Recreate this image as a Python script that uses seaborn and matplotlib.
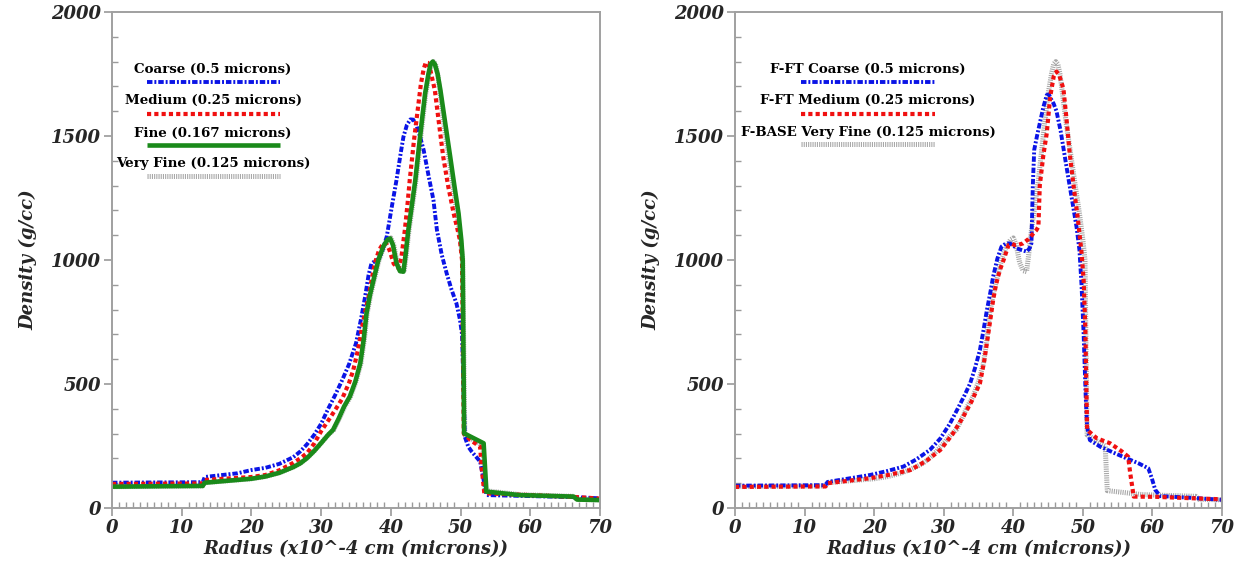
import numpy as np
import pandas as pd
import matplotlib
matplotlib.use("Agg")
import matplotlib.pyplot as plt
from matplotlib.ticker import MultipleLocator
import seaborn as sns

# ---- radial density profiles (radius in 1e-4 cm, density in g/cc) ----
coarse_r = [0, 13.0, 13.3, 18, 20, 22, 24, 26, 27, 28, 29, 30, 31, 32, 33, 34, 35, 35.7,
            36.3, 36.8, 37.2, 37.8, 38.3, 38.8, 39.4, 40.1, 40.8, 41.4, 41.8, 42.3, 42.8,
            43.2, 43.6, 44.1, 44.7, 45.4, 46.1, 46.6, 47.3, 48.0, 48.7, 49.4, 49.9, 50.2,
            50.4, 50.6, 51.1, 51.6, 52.8, 53.3, 53.7, 60, 66, 70]
coarse_rho = [102, 104, 125, 140, 153, 162, 178, 205, 228, 258, 295, 340, 400, 455, 515,
              580, 665, 760, 852, 940, 985, 998, 1005, 1040, 1094, 1210, 1322, 1430, 1497,
              1545, 1567, 1566, 1548, 1505, 1443, 1340, 1242, 1121, 1020, 946, 880, 825,
              760, 700, 500, 287, 247, 227, 187, 113, 52, 48, 44, 39]

medium_r = [0, 13.0, 13.3, 20, 22, 24, 26, 27, 28, 29, 30, 31, 32, 33, 34, 34.6, 35.3,
            35.8, 36.3, 36.8, 37.3, 37.7, 38.3, 38.9, 39.3, 39.8, 40.4, 41.1, 41.5, 42.0,
            42.4, 42.7, 43.3, 43.9, 44.3, 44.7, 45.0, 45.3, 45.7, 46.3, 46.9, 47.5, 48.2,
            49.0, 49.5, 49.9, 50.2, 50.45, 51.4, 52.8, 53.0, 53.4, 60, 66, 70]
medium_rho = [97, 99, 113, 125, 133, 152, 182, 200, 222, 260, 310, 352, 395, 440, 505,
              556, 640, 718, 790, 852, 930, 987, 1040, 1067, 1068, 1040, 985, 966, 1010,
              1121, 1230, 1322, 1480, 1618, 1710, 1770, 1796, 1795, 1760, 1685, 1550, 1417,
              1300, 1188, 1130, 1080, 1000, 300, 274, 247, 167, 59, 52, 45, 38]

fine_r = [0, 8, 13.0, 13.3, 20, 22, 24, 26, 27, 28, 29, 30, 31, 31.7, 32.5, 33.3, 34.1,
          34.9, 35.6, 36.1, 36.5, 37.0, 37.5, 38.2, 38.9, 39.5, 39.9, 40.3, 40.8, 41.3,
          41.8, 42.1, 42.5, 43.0, 43.5, 44.0, 44.4, 44.9, 45.4, 45.7, 46.0, 46.3, 46.7,
          47.1, 47.8, 48.5, 49.1, 49.7, 50.1, 50.3, 50.5, 53.3, 53.7, 58.5, 66.2, 66.7, 70]
fine_rho = [86, 88, 89, 102, 118, 127, 142, 165, 180, 202, 230, 262, 295, 315, 360, 410,
            449, 510, 583, 680, 785, 860, 919, 1000, 1054, 1082, 1087, 1060, 987, 955,
            953, 1020, 1121, 1220, 1322, 1450, 1551, 1670, 1753, 1790, 1800, 1790, 1750,
            1685, 1550, 1417, 1300, 1188, 1080, 1000, 301, 261, 66, 52, 46, 34, 32]

vfine_r = [0, 8, 13.0, 13.3, 20, 22, 24, 26, 27, 28, 29, 30, 31, 31.8, 32.6, 33.4, 34.2,
           35.0, 35.7, 36.2, 36.6, 37.1, 37.6, 38.3, 39.0, 39.6, 40.0, 40.4, 40.9, 41.4,
           41.9, 42.2, 42.6, 43.1, 43.6, 44.1, 44.5, 45.0, 45.5, 45.8, 46.1, 46.4, 46.7,
           47.0, 47.6, 48.3, 48.9, 49.5, 50.0, 50.3, 50.6, 53.2, 53.5, 58.5, 66.2, 66.7, 70]
vfine_rho = [86, 88, 89, 102, 118, 127, 142, 165, 180, 202, 230, 262, 295, 315, 360, 410,
             449, 510, 583, 680, 785, 860, 919, 1000, 1054, 1082, 1089, 1062, 990, 957,
             953, 1020, 1121, 1220, 1322, 1450, 1551, 1670, 1753, 1790, 1800, 1790, 1750,
             1685, 1550, 1417, 1300, 1188, 1080, 1000, 295, 250, 70, 54, 47, 35, 33]

ft_coarse_r = [0, 13.0, 13.3, 19.4, 22, 24.2, 26, 28.0, 29.5, 30.9, 32, 33, 33.8, 34.5,
               35.2, 35.7, 36.2, 36.7, 37.1, 37.7, 38.3, 38.9, 39.5, 40.0, 40.5, 41.2, 41.9,
               42.3, 42.6, 42.8, 43.0, 43.4, 43.8, 44.3, 44.8, 45.1, 45.4, 45.8, 46.2, 46.8,
               47.4, 48.0, 48.6, 49.1, 49.5, 49.8, 50.1, 50.4, 50.6, 51.0, 52.5, 54.5, 56.3,
               58, 59.4, 59.9, 60.4, 61.1, 65, 70]
ft_coarse_rho = [90, 92, 105, 133, 150, 167, 195, 234, 280, 341, 400, 455, 503, 565,
                 637, 715, 798, 870, 933, 1005, 1054, 1066, 1067, 1058, 1047, 1040, 1034,
                 1045, 1067, 1300, 1444, 1500, 1551, 1615, 1665, 1668, 1650, 1630, 1600, 1520,
                 1417, 1315, 1215, 1130, 1040, 900, 704, 450, 328, 274, 247, 222, 200,
                 180, 160, 120, 73, 48, 42, 33]

ft_medium_r = [0, 13.0, 13.3, 19.4, 22, 25.2, 27.5, 29.5, 31.2, 32.8, 34, 35.2, 35.8, 36.4,
               36.8, 37.1, 37.5, 37.8, 38.2, 38.6, 39.3, 39.8, 40.2, 40.8, 41.4, 42.2, 42.9,
               43.3, 43.6, 43.8, 44.3, 44.8, 45.3, 45.8, 46.2, 46.6, 47.2, 47.6, 48.1, 48.7,
               49.3, 49.8, 50.1, 50.35, 50.6, 52.0, 53.9, 55.5, 56.5, 56.8, 57.3, 60.5, 65, 70]
ft_medium_rho = [85, 87, 100, 120, 133, 153, 190, 234, 295, 368, 430, 503, 590, 704,
                 780, 839, 900, 933, 970, 1000, 1060, 1065, 1060, 1062, 1067, 1085, 1108,
                 1120, 1134, 1300, 1420, 1511, 1659, 1740, 1760, 1745, 1690, 1580, 1430, 1290,
                 1160, 1030, 920, 720, 315, 281, 261, 230, 207, 140, 46, 45, 40, 35]

left_labels = ["Coarse (0.5 microns)", "Medium (0.25 microns)",
               "Fine (0.167 microns)", "Very Fine (0.125 microns)"]
right_labels = ["F-FT Coarse (0.5 microns)", "F-FT Medium (0.25 microns)",
                "F-BASE Very Fine (0.125 microns)"]

x_ticks = [0, 10, 20, 30, 40, 50, 60, 70]
y_ticks = [0, 500, 1000, 1500, 2000]

# ---- line styles ----
BLUE = dict(color="#0a14e6", linewidth=2.8, linestyle=(0, (1.4, 0.5, 0.5, 0.5)))
RED = dict(color="#f01010", linewidth=3.0, linestyle=(0, (1.0, 0.75)))
GREEN = dict(color="#1a8a1a", linewidth=3.3, linestyle="-")
GRAY = dict(color="#a8a8a8", linewidth=3.6, linestyle=(0, (0.22, 0.22)))

sns.set_style("white")
plt.rcParams["font.family"] = ["DejaVu Serif"]

fig = plt.figure(figsize=(12.46, 5.64), dpi=100)
ax_l = fig.add_axes([0.0899, 0.0993, 0.3917, 0.8794])
ax_r = fig.add_axes([0.5899, 0.0993, 0.3909, 0.8794])


def draw(ax, r, rho, style):
    df = pd.DataFrame({"r": r, "rho": rho})
    sns.lineplot(data=df, x="r", y="rho", ax=ax, estimator=None, sort=False, **style)


def key(ax, text, style, ty, ly, xc, x0, x1):
    ax.text(xc, ty, text, transform=ax.transAxes, ha="center", va="center",
            fontsize=9.6, fontweight="bold", color="black")
    ax.plot([x0, x1], [ly, ly], transform=ax.transAxes, solid_capstyle="butt",
            **style)


def frame(ax):
    ax.set_xlim(0, 70)
    ax.set_ylim(0, 2000)
    ax.set_xticks(x_ticks)
    ax.set_yticks(y_ticks)
    ax.xaxis.set_minor_locator(MultipleLocator(1))
    ax.yaxis.set_minor_locator(MultipleLocator(100))
    ax.tick_params(which="major", direction="out", length=6, width=1.2,
                   color="#9a9a9a", labelsize=13, pad=2, left=True, bottom=True)
    ax.tick_params(which="minor", direction="in", length=4, width=1.0,
                   color="#9a9a9a", left=True, bottom=True)
    for lab in ax.get_xticklabels() + ax.get_yticklabels():
        lab.set_fontweight("bold")
        lab.set_fontstyle("italic")
    for sp in ax.spines.values():
        sp.set_color("#a0a0a0")
        sp.set_linewidth(1.4)
        sp.set_visible(True)
    ax.set_xlabel("Radius (x10^-4 cm (microns))", fontsize=13, fontweight="bold",
                  fontstyle="italic", labelpad=2)
    ax.set_ylabel("Density (g/cc)", fontsize=13, fontweight="bold",
                  fontstyle="italic", labelpad=10)


# left panel: grid refinement study
draw(ax_l, vfine_r, vfine_rho, GRAY)
draw(ax_l, coarse_r, coarse_rho, BLUE)
draw(ax_l, medium_r, medium_rho, RED)
draw(ax_l, fine_r, fine_rho, GREEN)
frame(ax_l)
rows_t = [0.885, 0.821, 0.756, 0.694]
rows_l = [0.859, 0.794, 0.732, 0.669]
for lab, st, ty, ly in zip(left_labels, [BLUE, RED, GREEN, GRAY], rows_t, rows_l):
    key(ax_l, lab, st, ty, ly, 0.207, 0.072, 0.344)

# right panel: F-FT runs against the F-BASE reference
draw(ax_r, vfine_r, vfine_rho, GRAY)
draw(ax_r, ft_coarse_r, ft_coarse_rho, BLUE)
draw(ax_r, ft_medium_r, ft_medium_rho, RED)
frame(ax_r)
rows_t = [0.885, 0.821, 0.758]
rows_l = [0.859, 0.794, 0.734]
for lab, st, ty, ly in zip(right_labels, [BLUE, RED, GRAY], rows_t, rows_l):
    key(ax_r, lab, st, ty, ly, 0.273, 0.1355, 0.4107)

fig.savefig("out.png", dpi=100)
